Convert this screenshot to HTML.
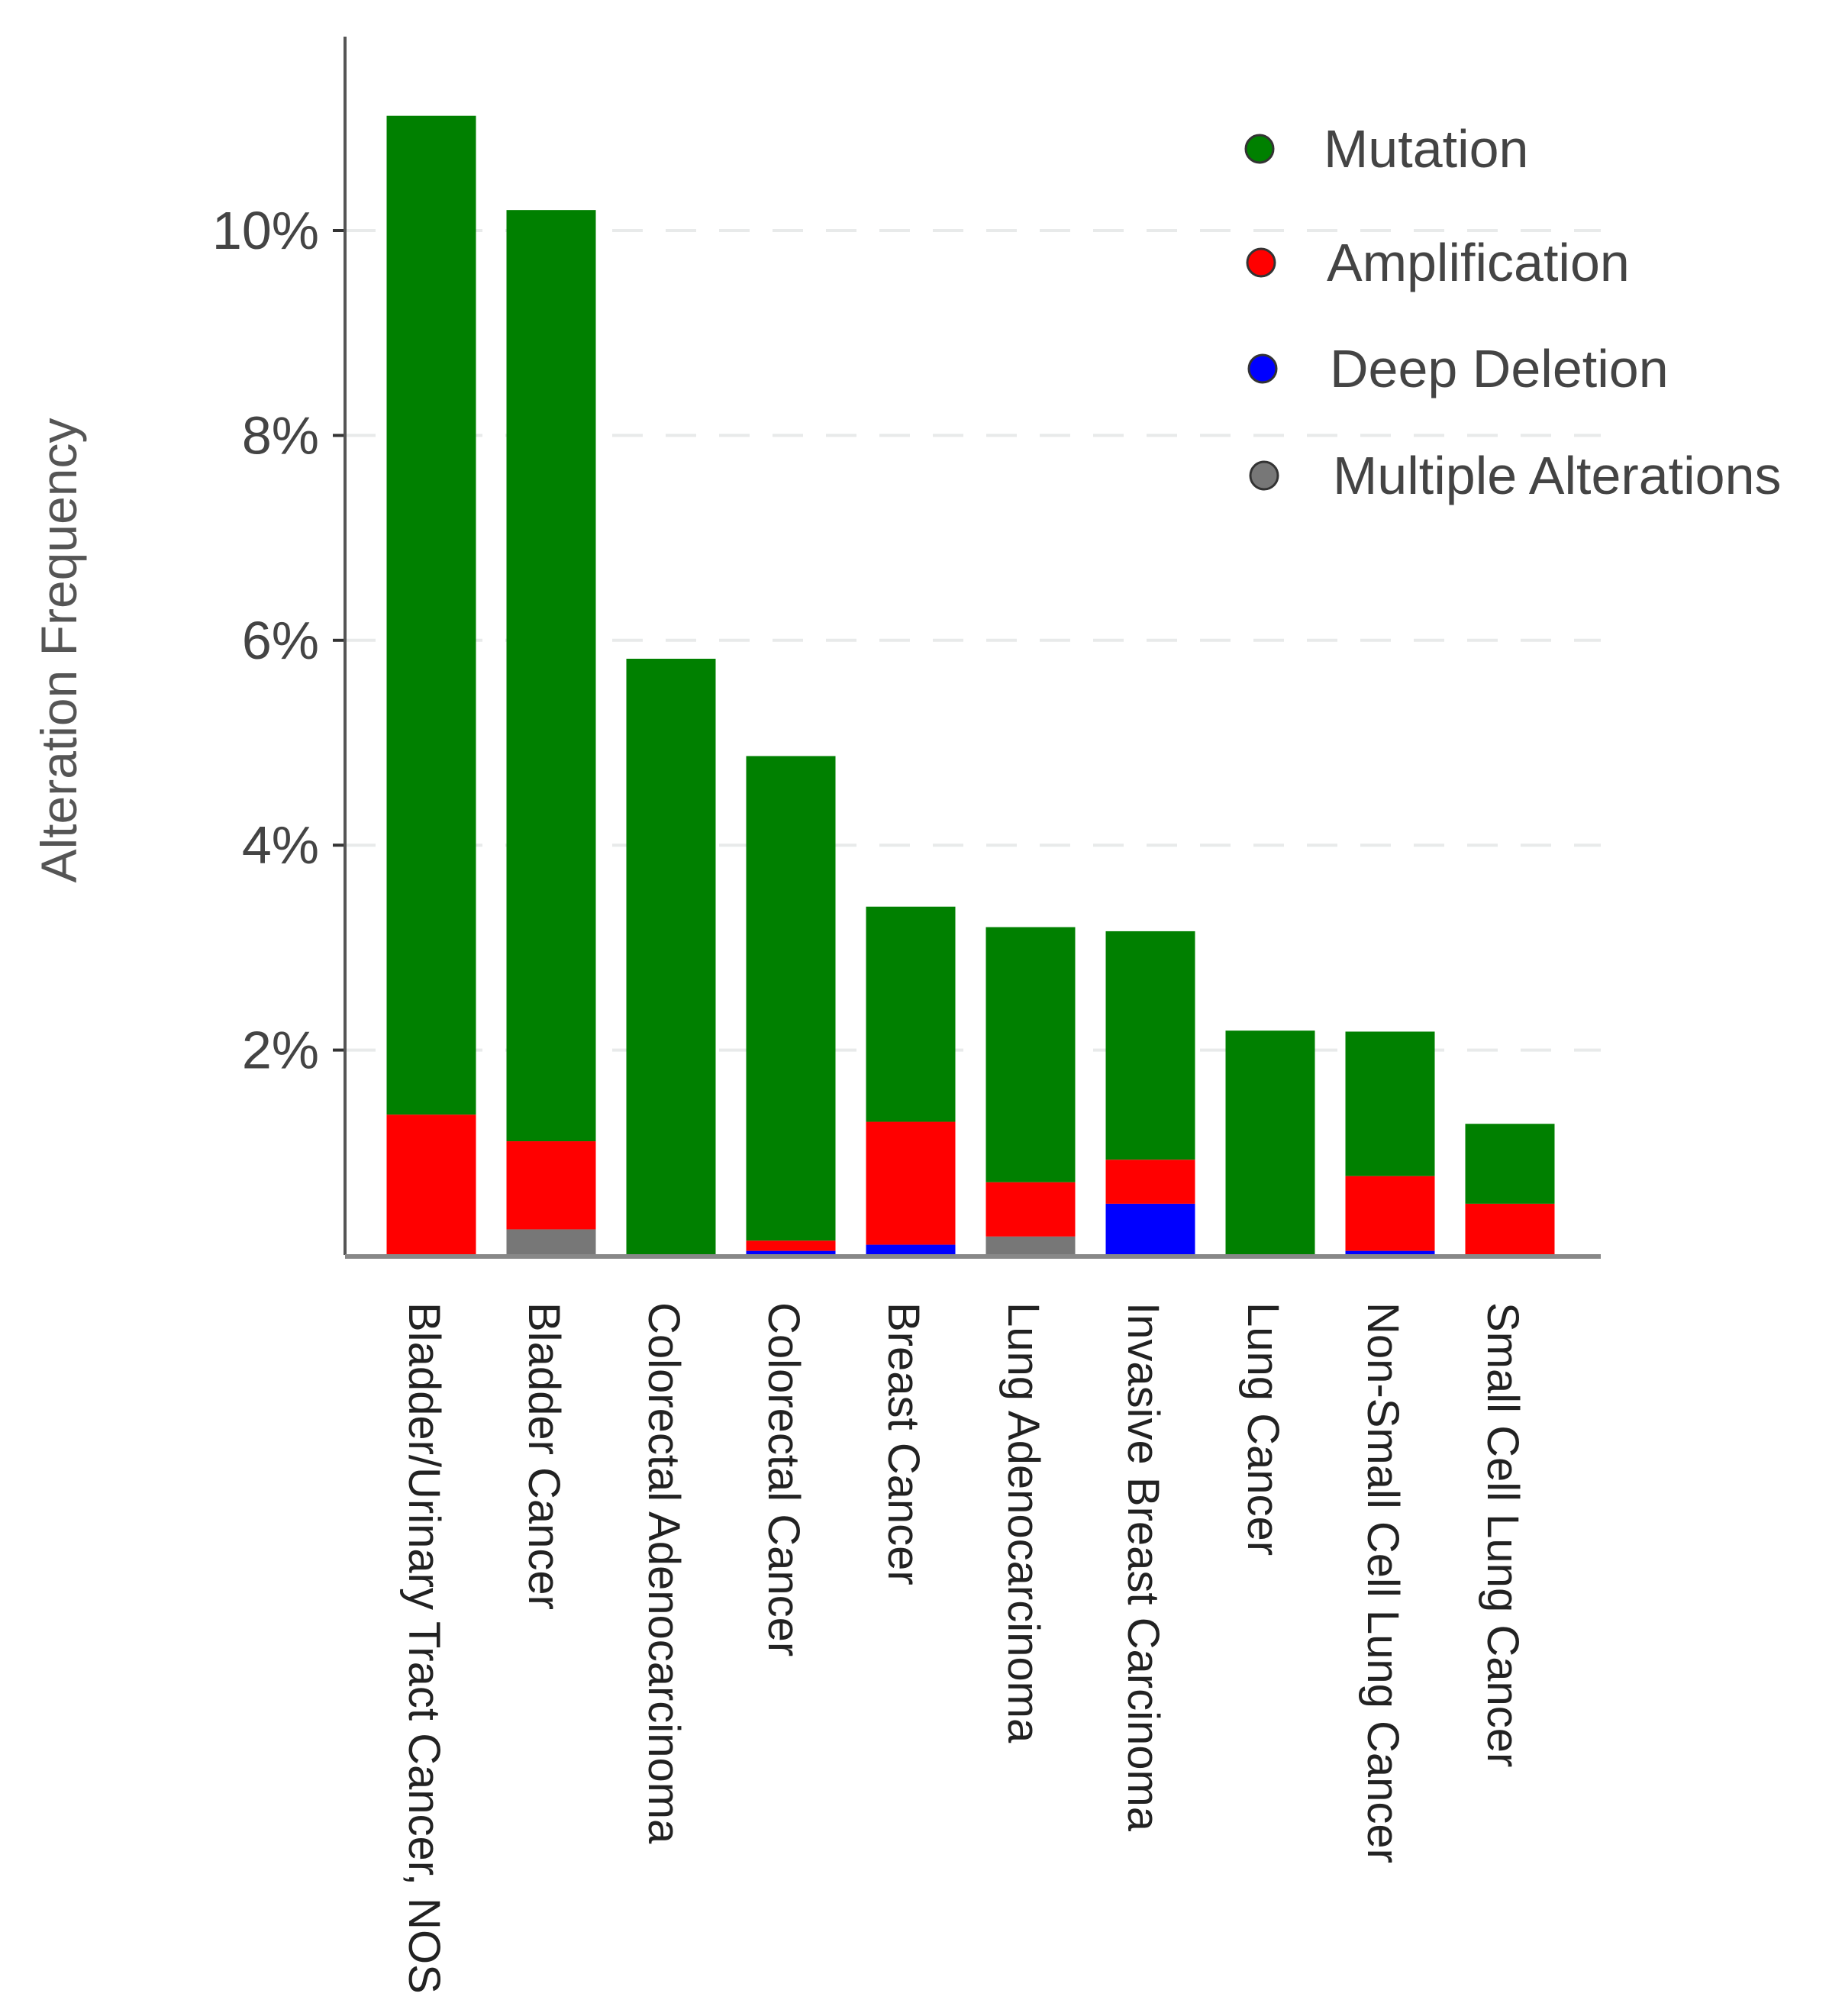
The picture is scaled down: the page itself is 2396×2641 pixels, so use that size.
<!DOCTYPE html>
<html><head><meta charset="utf-8"><style>
html,body{margin:0;padding:0;background:#fff;}
svg{display:block;font-family:"Liberation Sans",sans-serif;}
</style></head><body>
<svg id="chart" width="2396" height="2641" viewBox="0 0 2396 2641">
<g id="grid"></g>
<g id="bars"></g>
<g id="yaxis"></g>
<g id="xlabels"></g>
<text transform="translate(100,852) rotate(-90)" text-anchor="middle" font-size="66" fill="#555">Alteration Frequency</text>
<g id="legend"></g>
</svg>
<script>
const categories = ["Bladder/Urinary Tract Cancer, NOS","Bladder Cancer","Colorectal Adenocarcinoma","Colorectal Cancer","Breast Cancer","Lung Adenocarcinoma","Invasive Breast Carcinoma","Lung Cancer","Non-Small Cell Lung Cancer","Small Cell Lung Cancer"];
const multiple = [0, 0.25, 0, 0, 0, 0.18, 0, 0, 0, 0];
const deepDeletion = [0, 0, 0, 0.04, 0.1, 0, 0.5, 0, 0.04, 0];
const amplification = [1.37, 0.86, 0, 0.1, 1.2, 0.53, 0.43, 0, 0.73, 0.5];
const mutation = [9.75, 9.09, 5.82, 4.73, 2.1, 2.49, 2.23, 2.19, 1.41, 0.78];
const yTicks = [2, 4, 6, 8, 10];
const yTickLabels = ["2%", "4%", "6%", "8%", "10%"];
const legendLabels = ["Mutation", "Amplification", "Deep Deletion", "Multiple Alterations"];

const NS = "http://www.w3.org/2000/svg";
const x0 = 452, xEnd = 2097, y0 = 1644, pxPerUnit = 134.2;
const step = 157, firstCenter = 565, barW = 117;
const y = v => y0 - v * pxPerUnit;
const xc = i => firstCenter + i * step;
function mk(tag, attrs, parent){const e=document.createElementNS(NS,tag);for(const k in attrs)e.setAttribute(k,attrs[k]);parent.appendChild(e);return e;}

const grid = document.getElementById('grid');
const yaxis = document.getElementById('yaxis');
yTicks.forEach((t,i)=>{
  const g = mk('line',{x1:x0,x2:xEnd,y1:y(t),y2:y(t),stroke:'#e8eaea','stroke-width':4,'stroke-dasharray':'40 30'},grid);
  
  
  const tk = mk('line',{x1:x0-16,x2:x0,y1:y(t),y2:y(t),stroke:'#333','stroke-width':4},yaxis);
  
  
  const lb = mk('text',{x:x0-34,y:y(t)+24,'text-anchor':'end','font-size':70,fill:'#444'},yaxis);
  lb.textContent = yTickLabels[i];
  
  
});
const ya = mk('line',{x1:x0,x2:x0,y1:48,y2:y0,stroke:'#555','stroke-width':4},yaxis);



const bars = document.getElementById('bars');
const series = [[multiple,'#777777','multiple'],[deepDeletion,'#0000ff','deep-deletion'],[amplification,'#ff0000','amplification'],[mutation,'#008000','mutation']];
categories.forEach((c,i)=>{
  let acc = 0;
  series.forEach(([arr,col,nm])=>{
    const v = arr[i];
    if(v>0){
      const r = mk('rect',{x:xc(i)-barW/2,y:y(acc+v),width:barW,height:v*pxPerUnit,fill:col},bars);
      
      
    }
    acc += v;
  });
});
const xa = mk('line',{x1:x0,x2:xEnd,y1:y0+2,y2:y0+2,stroke:'#888','stroke-width':6},yaxis);



const xl = document.getElementById('xlabels');
categories.forEach((c,i)=>{
  const t = mk('text',{transform:`translate(${xc(i)-29},1706) rotate(90)`,'font-size':58,fill:'#222'},xl);
  t.textContent = c;
  
  
});

const legend = document.getElementById('legend');
const lcol = ['#008000','#ff0000','#0000ff','#777777'];
const ly = [195, 344, 483, 623];
legendLabels.forEach((l,i)=>{
  const c = mk('circle',{cx:1650+i*2,cy:ly[i],r:18,fill:lcol[i],stroke:'#333','stroke-width':3},legend);
  
  
  const t = mk('text',{x:1734+i*4,y:ly[i]+24,'font-size':70,fill:'#444'},legend);
  t.textContent = l;
  
  
});
</script>
</body></html>
